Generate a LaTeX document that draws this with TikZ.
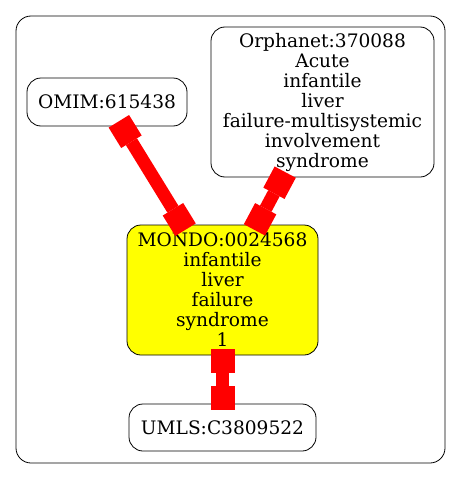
\documentclass[tikz,border=0pt]{standalone}
\usepackage{fontspec}
\setmainfont{DejaVu Serif}
\usetikzlibrary{arrows.meta}
\definecolor{gvyellow}{RGB}{255,255,0}
\definecolor{gvred}{RGB}{255,0,0}
\tikzset{
  gnode/.style={draw=black, line width=0.8pt, rounded corners=14pt, align=center, inner sep=0pt,
    font=\fontsize{18.6}{20}\selectfont},
  edge/.style={draw=gvred, line width=13pt,
    {Square[length=24pt,width=24pt,line width=0pt]}-{Square[length=24pt,width=24pt,line width=0pt]},
    shorten <=-6pt, shorten >=-6pt},
}
\begin{document}
\begin{tikzpicture}[x=1pt,y=-1pt]
\useasboundingbox (0,0) rectangle (461,479);
\node[draw=black, line width=0.8pt, rounded corners=15pt, minimum width=429pt, minimum height=447pt, inner sep=0pt] (outer) at (230.5,239.5) {};
\node[gnode, minimum width=160pt, minimum height=48pt] (omim) at (107,102) {OMIM:615438};
\node[gnode, minimum width=223pt, minimum height=150pt] (orpha) at (322.5,102) {Orphanet:370088\\Acute\\infantile\\liver\\failure-multisystemic\\involvement\\syndrome};
\node[gnode, fill=gvyellow, minimum width=191pt, minimum height=130pt] (mondo) at (222.5,290) {MONDO:0024568\\infantile\\liver\\failure\\syndrome\\1};
\node[gnode, minimum width=187pt, minimum height=47pt] (umls) at (222.5,427.5) {UMLS:C3809522};
\draw[edge] (omim) -- (mondo);
\draw[edge] (orpha) -- (mondo);
\draw[edge] (mondo) -- (umls);
\end{tikzpicture}
\end{document}
